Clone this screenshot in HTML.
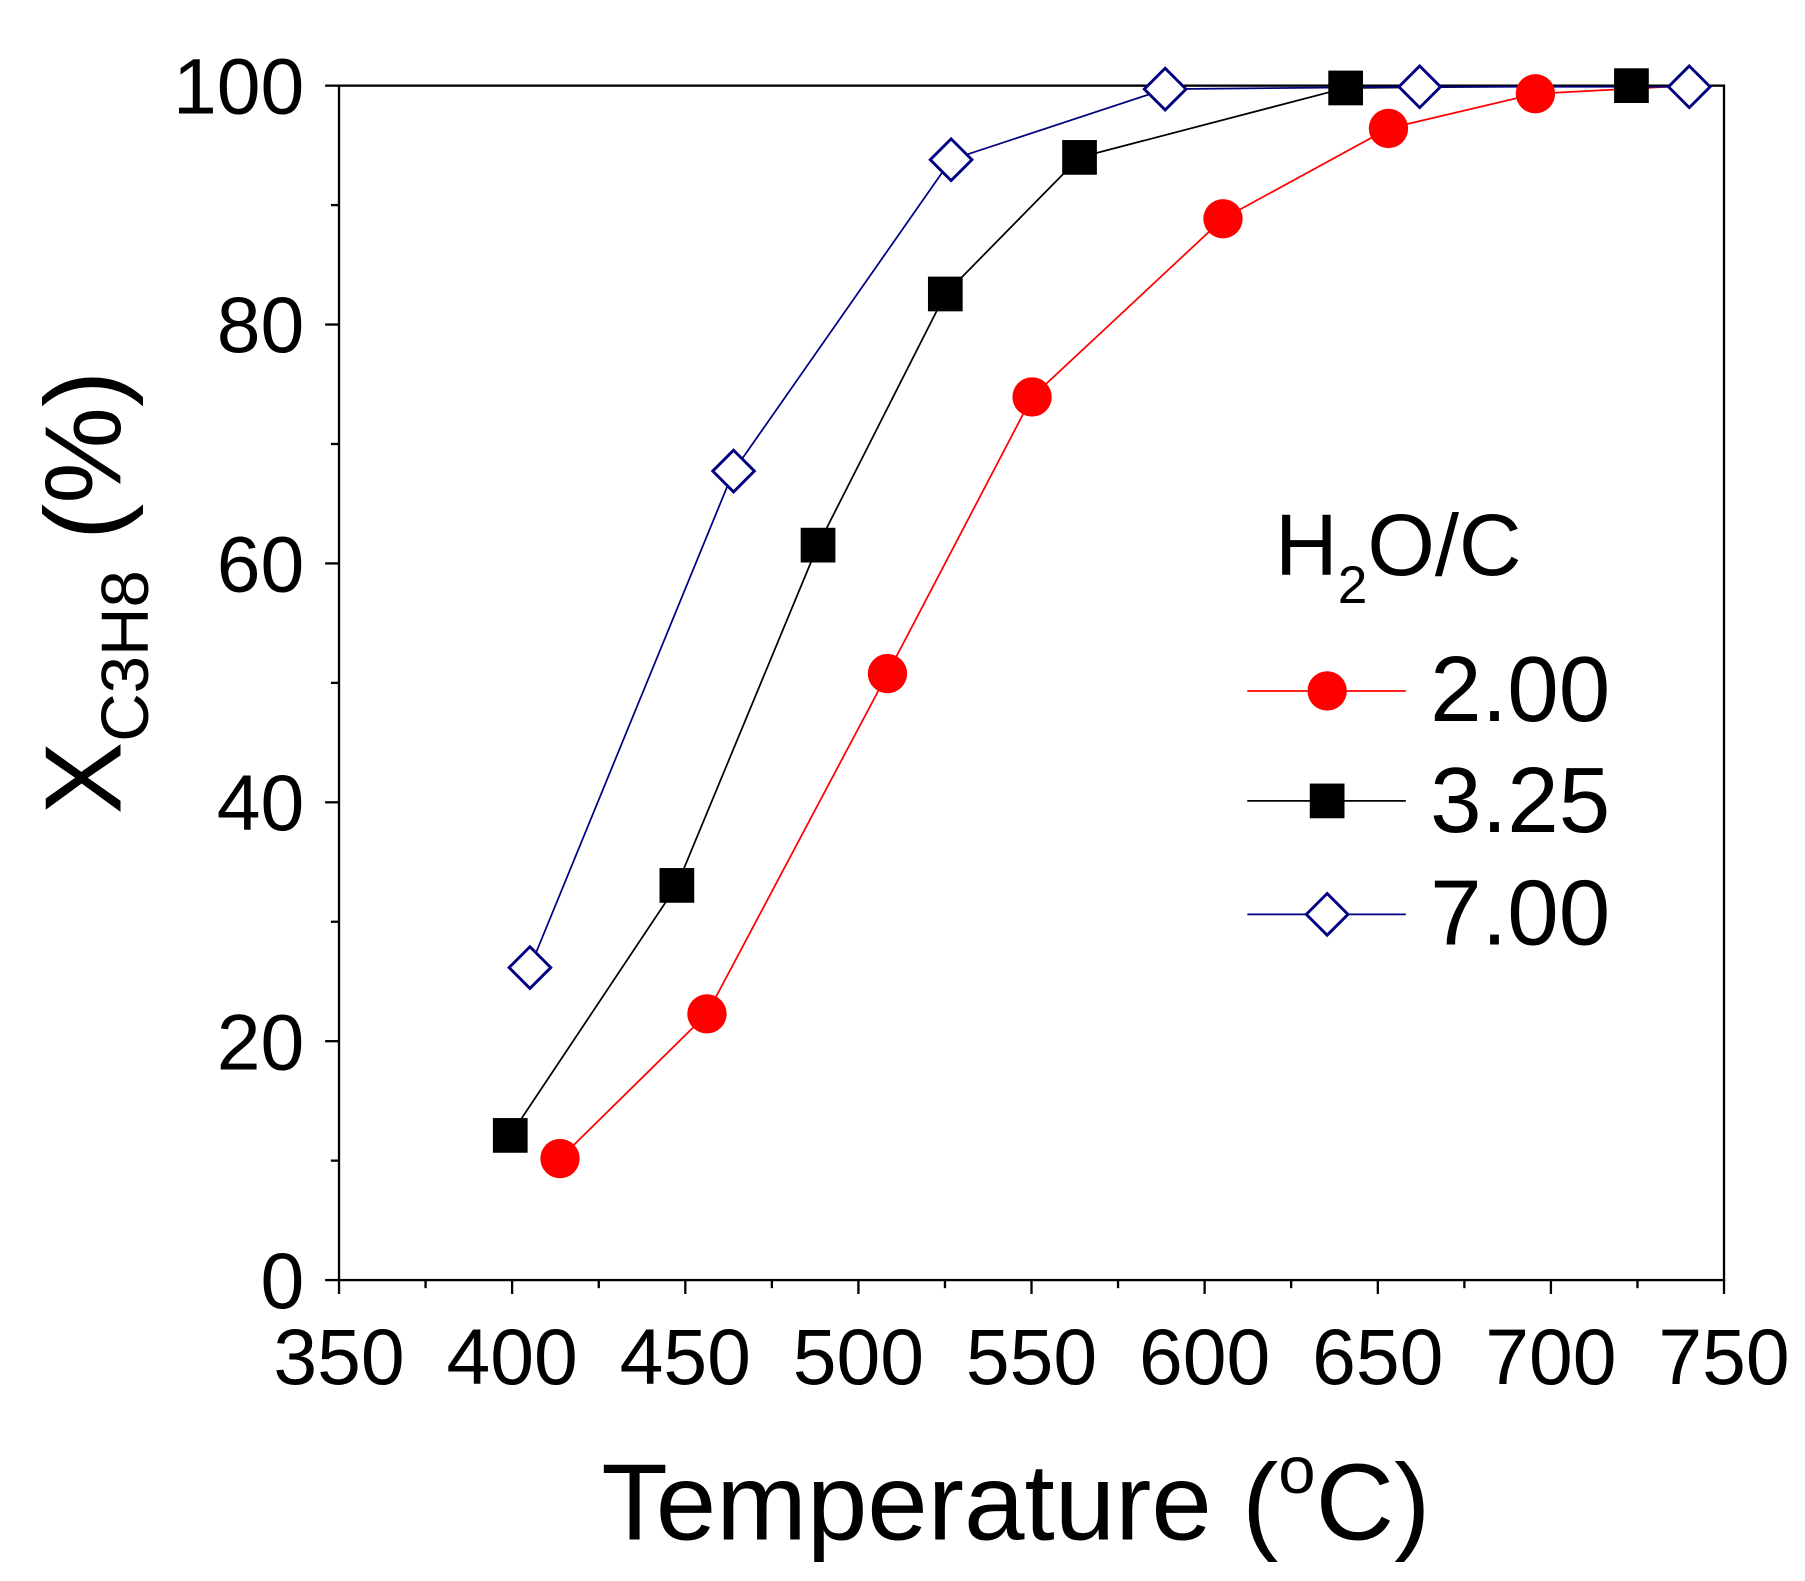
<!DOCTYPE html>
<html><head><meta charset="utf-8"><style>html,body{margin:0;padding:0;background:#fff}svg{display:block}</style></head>
<body>
<svg width="1805" height="1581" viewBox="0 0 1560 1366" preserveAspectRatio="none" xmlns="http://www.w3.org/2000/svg" font-family="Liberation Sans, Arial, sans-serif">
<rect x="293" y="74" width="1197" height="1032" fill="none" stroke="#000" stroke-width="2"/>
<g stroke="#000" stroke-width="2">
<line x1="281" y1="1106" x2="293" y2="1106"/><line x1="281" y1="899.6" x2="293" y2="899.6"/><line x1="281" y1="693.2" x2="293" y2="693.2"/><line x1="281" y1="486.8" x2="293" y2="486.8"/><line x1="281" y1="280.4" x2="293" y2="280.4"/><line x1="281" y1="74" x2="293" y2="74"/>
<line x1="286" y1="1002.8" x2="293" y2="1002.8"/><line x1="286" y1="796.4" x2="293" y2="796.4"/><line x1="286" y1="590" x2="293" y2="590"/><line x1="286" y1="383.6" x2="293" y2="383.6"/><line x1="286" y1="177.2" x2="293" y2="177.2"/>
<line x1="293" y1="1106" x2="293" y2="1118"/><line x1="442.6" y1="1106" x2="442.6" y2="1118"/><line x1="592.3" y1="1106" x2="592.3" y2="1118"/><line x1="741.9" y1="1106" x2="741.9" y2="1118"/><line x1="891.5" y1="1106" x2="891.5" y2="1118"/><line x1="1041.1" y1="1106" x2="1041.1" y2="1118"/><line x1="1190.8" y1="1106" x2="1190.8" y2="1118"/><line x1="1340.4" y1="1106" x2="1340.4" y2="1118"/><line x1="1490" y1="1106" x2="1490" y2="1118"/>
<line x1="367.8" y1="1106" x2="367.8" y2="1113"/><line x1="517.5" y1="1106" x2="517.5" y2="1113"/><line x1="667.1" y1="1106" x2="667.1" y2="1113"/><line x1="816.7" y1="1106" x2="816.7" y2="1113"/><line x1="966.3" y1="1106" x2="966.3" y2="1113"/><line x1="1115.9" y1="1106" x2="1115.9" y2="1113"/><line x1="1265.6" y1="1106" x2="1265.6" y2="1113"/><line x1="1415.2" y1="1106" x2="1415.2" y2="1113"/>
</g>
<g font-size="68" text-anchor="end">
<text x="263" y="1130">0</text><text x="263" y="924">20</text><text x="263" y="717">40</text><text x="263" y="511">60</text><text x="263" y="304">80</text><text x="263" y="98">100</text>
</g>
<g font-size="68" text-anchor="middle">
<text x="293" y="1196">350</text><text x="442.6" y="1196">400</text><text x="592.3" y="1196">450</text><text x="741.9" y="1196">500</text><text x="891.5" y="1196">550</text><text x="1041.1" y="1196">600</text><text x="1190.8" y="1196">650</text><text x="1340.4" y="1196">700</text><text x="1490" y="1196">750</text>
</g>
<text x="878" y="1330" font-size="94" text-anchor="middle">Temperature (<tspan font-size="58" dy="-40">o</tspan><tspan dy="40">C)</tspan></text>
<g transform="translate(104,512) rotate(-90)">
<text x="0" y="0" font-size="94" text-anchor="middle">X<tspan font-size="58" dy="24">C3H8</tspan><tspan dy="-24"> (%)</tspan></text>
</g>
<polyline fill="none" stroke="#ff0000" stroke-width="1.5" points="484,1001 611,876 767,582 892,343 1057,189 1200,111 1327,81 1460,74"/>
<polyline fill="none" stroke="#000" stroke-width="1.5" points="441,981 585,765 707,471 817,254 933,136 1163,76 1410,74 1460,74"/>
<polyline fill="none" stroke="#000080" stroke-width="1.5" points="458,836 634,407 822,138 1007,77 1227,75 1460,75"/>
<g fill="#ff0000"><circle cx="484" cy="1001" r="17"/><circle cx="611" cy="876" r="17"/><circle cx="767" cy="582" r="17"/><circle cx="892" cy="343" r="17"/><circle cx="1057" cy="189" r="17"/><circle cx="1200" cy="111" r="17"/><circle cx="1327" cy="81" r="17"/></g>
<g fill="#000"><rect x="426" y="966" width="30" height="30"/><rect x="570" y="750" width="30" height="30"/><rect x="692" y="456" width="30" height="30"/><rect x="802" y="239" width="30" height="30"/><rect x="918" y="121" width="30" height="30"/><rect x="1148" y="61" width="30" height="30"/><rect x="1395" y="59" width="30" height="30"/></g>
<g fill="#fff" stroke="#000080" stroke-width="2.5">
<polygon points="458,818 476,836 458,854 440,836"/><polygon points="634,389 652,407 634,425 616,407"/><polygon points="822,120 840,138 822,156 804,138"/><polygon points="1007,59 1025,77 1007,95 989,77"/><polygon points="1227,57 1245,75 1227,93 1209,75"/><polygon points="1460,57 1478,75 1460,93 1442,75"/>
</g>
<text x="1102" y="497" font-size="75">H<tspan font-size="46" dy="24">2</tspan><tspan dy="-24">O/C</tspan></text>
<line x1="1078" y1="597" x2="1215" y2="597" stroke="#ff0000" stroke-width="1.5"/><circle cx="1147" cy="597" r="17" fill="#ff0000"/>
<line x1="1078" y1="692" x2="1215" y2="692" stroke="#000" stroke-width="1.5"/><rect x="1132" y="677" width="30" height="30" fill="#000"/>
<line x1="1078" y1="790" x2="1215" y2="790" stroke="#000080" stroke-width="1.5"/><polygon points="1147,772 1165,790 1147,808 1129,790" fill="#fff" stroke="#000080" stroke-width="2.5"/>
<g font-size="80"><text x="1236" y="623">2.00</text><text x="1236" y="719">3.25</text><text x="1236" y="816">7.00</text></g>
</svg>
</body></html>
